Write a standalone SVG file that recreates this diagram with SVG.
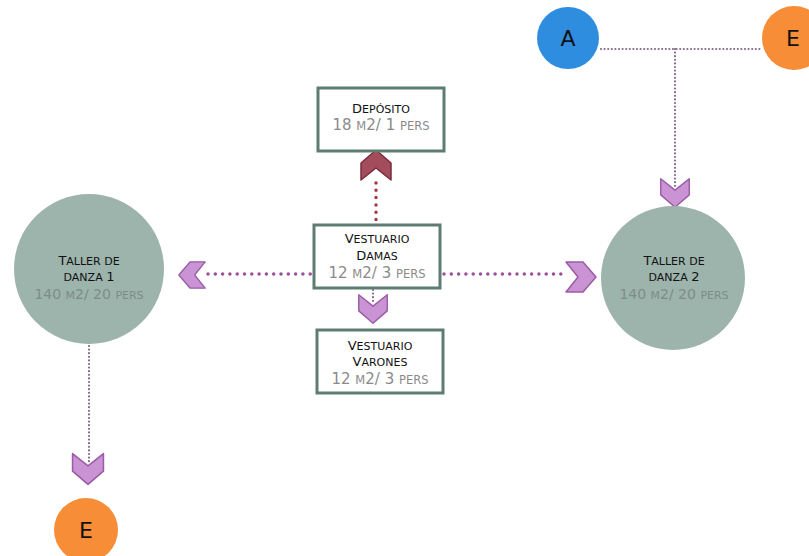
<svg xmlns="http://www.w3.org/2000/svg" width="809" height="556" viewBox="0 0 809 556">
<style>
.box{fill:#fff;stroke:#5e7d71;stroke-width:3}
.room{fill:#9db4ac}
.t{font-family:"DejaVu Sans",sans-serif;fill:#111;text-anchor:middle}
.s{font-family:"DejaVu Sans",sans-serif;fill:#8a8a8a;text-anchor:middle}
.sc{fill:#7b8e88}
.b{font-size:13px}.m{font-size:11px}
.B{font-size:15px}.M{font-size:11.5px}
.C{font-size:14px}.N{font-size:11px}
.dot{fill:none;stroke:#9a4f98;stroke-width:3.5;stroke-linecap:round;stroke-dasharray:0 7.3}
.thin{fill:none;stroke:#86698a;stroke-width:2.2;stroke-linecap:round;stroke-dasharray:0 3.6}
.red{fill:none;stroke:#a43a4c;stroke-width:3.5;stroke-linecap:round;stroke-dasharray:0 7.3}
.chp{fill:#c993d4;stroke:#9a5ca6;stroke-width:1.5;stroke-linejoin:round}
.chr{fill:#a34c5b;stroke:#7b2b39;stroke-width:1.5;stroke-linejoin:round}
.lt{font-family:"DejaVu Sans",sans-serif;font-size:22px;fill:#111;text-anchor:middle}
</style>
<defs>
<path id="chev" d="M-15,-15 L0,-3 L15,-15 L15,2 L0,15 L-15,2 Z"/>
</defs>
<g id="connectors">
<path class="red" d="M376,183 V223"/>
<path class="dot" d="M208,274 H312"/>
<path class="dot" d="M444,274 H562"/>
<path class="thin" d="M373,290 V304"/>
<path class="thin" d="M601,49 H762"/>
<path class="thin" d="M675,49 V186"/>
<path class="thin" d="M89,346 V462"/>
<use href="#chev" class="chr" transform="translate(376,165) rotate(180)"/>
<use href="#chev" class="chp" transform="translate(192,275) rotate(90) scale(0.88)"/>
<use href="#chev" class="chp" transform="translate(581,277) rotate(-90)"/>
<use href="#chev" class="chp" transform="translate(373,309) scale(0.95)"/>
<use href="#chev" class="chp" transform="translate(675,193) scale(0.95)"/>
<use href="#chev" class="chp" transform="translate(88,469) scale(1.03)"/>
</g>
<g id="deposito">
<rect class="box" x="318" y="88" width="126" height="63"/>
<text class="t" x="381" y="113"><tspan class="b">D</tspan><tspan class="m">EPÓSITO</tspan></text>
<text class="s" x="381" y="130"><tspan class="B">18 </tspan><tspan class="M">M</tspan><tspan class="B">2/ 1 </tspan><tspan class="M">PERS</tspan></text>
</g>
<g id="vestuario-damas">
<rect class="box" x="314" y="225" width="126" height="63"/>
<text class="t" x="377" y="243"><tspan class="b">V</tspan><tspan class="m">ESTUARIO</tspan></text>
<text class="t" x="377" y="260"><tspan class="b">D</tspan><tspan class="m">AMAS</tspan></text>
<text class="s" x="377" y="278"><tspan class="B">12 </tspan><tspan class="M">M</tspan><tspan class="B">2/ 3 </tspan><tspan class="M">PERS</tspan></text>
</g>
<g id="vestuario-varones">
<rect class="box" x="317" y="330" width="126" height="63"/>
<text class="t" x="380" y="350"><tspan class="b">V</tspan><tspan class="m">ESTUARIO</tspan></text>
<text class="t" x="380" y="366"><tspan class="b">V</tspan><tspan class="m">ARONES</tspan></text>
<text class="s" x="380" y="384"><tspan class="B">12 </tspan><tspan class="M">M</tspan><tspan class="B">2/ 3 </tspan><tspan class="M">PERS</tspan></text>
</g>
<g id="taller-1">
<circle class="room" cx="89" cy="269" r="75"/>
<text class="t" x="89" y="265"><tspan class="b">T</tspan><tspan class="m">ALLER DE</tspan></text>
<text class="t" x="89" y="281"><tspan class="m">DANZA </tspan><tspan class="b">1</tspan></text>
<text class="s sc" x="89" y="299"><tspan class="C">140 </tspan><tspan class="N">M</tspan><tspan class="C">2/ 20 </tspan><tspan class="N">PERS</tspan></text>
</g>
<g id="taller-2">
<circle class="room" cx="673" cy="278" r="72"/>
<text class="t" x="674" y="265"><tspan class="b">T</tspan><tspan class="m">ALLER DE</tspan></text>
<text class="t" x="674" y="281"><tspan class="m">DANZA </tspan><tspan class="b">2</tspan></text>
<text class="s sc" x="674" y="299"><tspan class="C">140 </tspan><tspan class="N">M</tspan><tspan class="C">2/ 20 </tspan><tspan class="N">PERS</tspan></text>
</g>
<g id="node-a">
<circle cx="568" cy="38" r="31" fill="#2f8ddf"/>
<text class="lt" x="568" y="46">A</text>
</g>
<g id="node-e-top">
<circle cx="794" cy="38" r="32" fill="#f78d37"/>
<text class="lt" x="793" y="46">E</text>
</g>
<g id="node-e-bottom">
<circle cx="86" cy="530" r="32" fill="#f78d37"/>
<text class="lt" x="86" y="538">E</text>
</g>
</svg>
